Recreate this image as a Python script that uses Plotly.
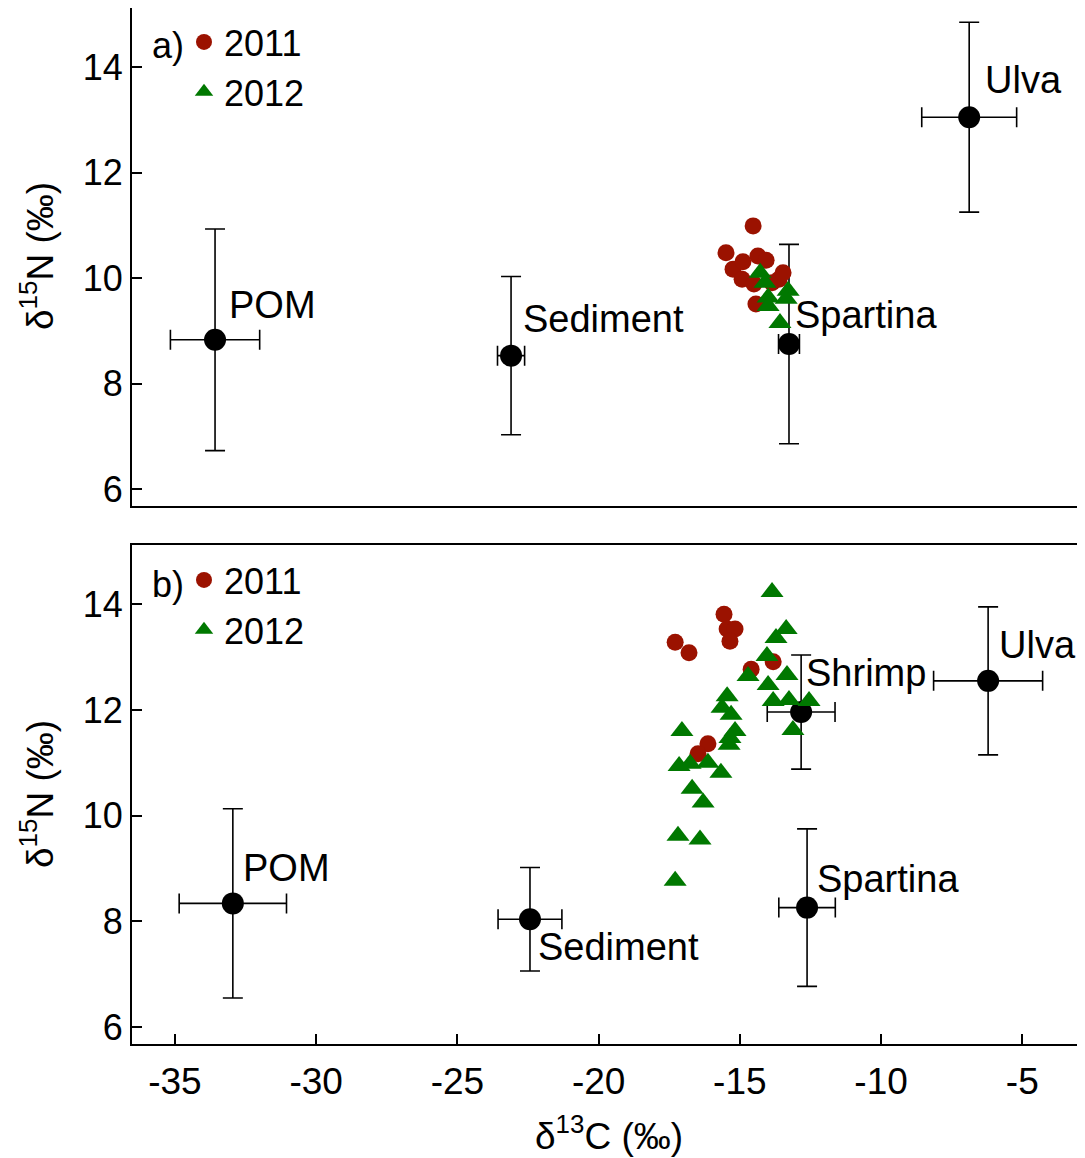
import plotly.graph_objects as go

# ---------------- data ----------------
# Panel a) sources (mean +/- SD)
top_src_names = ["POM", "Sediment", "Spartina", "Ulva"]
top_src_c = [-33.58, -23.10, -13.26, -6.88]
top_src_n = [8.83, 8.53, 8.75, 13.05]
top_src_c_sd = [1.58, 0.48, 0.37, 1.68]
top_src_n_sd = [2.10, 1.50, 1.89, 1.80]

# Panel a) consumers
top_2011_c = [-14.53, -15.49, -15.24, -14.89, -14.92, -14.36, -14.07, -14.50, -14.43, -13.86, -13.61, -13.47]
top_2011_n = [10.99, 10.48, 10.17, 10.31, 9.98, 10.42, 10.34, 9.89, 9.51, 9.91, 9.98, 10.10]
top_2012_c = [-14.28, -14.11, -14.00, -13.29, -13.36, -14.00, -13.58]
top_2012_n = [10.10, 9.91, 9.63, 9.76, 9.61, 9.47, 9.15]

# Panel b) sources
bot_src_names = ["POM", "Sediment", "Spartina", "Shrimp", "Ulva"]
bot_src_c = [-32.95, -22.43, -12.62, -12.83, -6.21]
bot_src_n = [8.34, 8.04, 8.26, 11.96, 12.55]
bot_src_c_sd = [1.90, 1.13, 1.00, 1.20, 1.93]
bot_src_n_sd = [1.79, 0.98, 1.49, 1.08, 1.40]

# Panel b) consumers
bot_2011_c = [-15.56, -15.45, -15.17, -15.35, -17.29, -16.80, -14.60, -13.82, -16.13, -16.48]
bot_2011_n = [13.81, 13.53, 13.53, 13.30, 13.28, 13.08, 12.77, 12.91, 11.36, 11.17]
bot_2012_c = [-13.86, -13.36, -13.72, -14.04, -14.71, -13.33, -14.00, -13.82, -13.26, -12.55,
              -13.12, -15.45, -15.63, -15.31, -15.17, -15.35, -15.38, -17.05, -17.15, -16.76,
              -16.13, -15.67, -16.69, -16.30, -17.19, -16.41, -17.29]
bot_2012_n = [14.23, 13.53, 13.36, 13.02, 12.64, 12.66, 12.47, 12.17, 12.19, 12.17,
              11.62, 12.26, 12.04, 11.91, 11.60, 11.47, 11.34, 11.60, 10.94, 10.98,
              11.00, 10.81, 10.51, 10.25, 9.62, 9.55, 8.77]

x_ticks = [-35, -30, -25, -20, -15, -10, -5]
x_tick_text = ["-35", "-30", "-25", "-20", "-15", "-10", "-5"]
y_ticks = [6, 8, 10, 12, 14]
year_labels = ["2011", "2012"]
panel_labels = ["a)", "b)"]
y_title = "δ<sup>15</sup>N (‰)"
x_title = "δ<sup>13</sup>C (‰)"

# label offsets (pixels) for source names
top_lab_dx = [12, 10, 4, 14]
top_lab_dy = [35, 37, 29, 37]
bot_lab_dx = [8, 6, 8, 3, 9]
bot_lab_dy = [35, -28, 29, 39, 36]

# ---------------- style ----------------
FONT = "Arial, 'Liberation Sans', sans-serif"
RED = "#9b1200"
GREEN = "#007800"
X_RANGE = [-36.52, -2.78]
Y_RANGE = [5.68, 15.12]

# page body has an 8px margin: work in screen pixels and convert
OFF = 8
W = 1085.0 - OFF
H = 1158.0 - OFF


def px_x(sx):
    return min(1.0, max(0.0, (sx - OFF) / W))


def px_y(sy):
    return min(1.0, max(0.0, 1 - (sy - OFF) / H))


fig = go.Figure()


def add_panel(xa, ya, sc, sn, scsd, snsd, c11, n11, c12, n12, legend):
    fig.add_trace(go.Scatter(
        x=sc, y=sn, mode="markers", xaxis=xa, yaxis=ya, showlegend=False,
        marker=dict(color="black", size=22, line=dict(width=0)),
        error_x=dict(type="data", array=scsd, color="black", thickness=1.6, width=10),
        error_y=dict(type="data", array=snsd, color="black", thickness=1.6, width=10),
    ))
    fig.add_trace(go.Scatter(
        x=c11, y=n11, mode="markers", xaxis=xa, yaxis=ya, name=year_labels[0],
        legend=legend, showlegend=True,
        marker=dict(color=RED, size=17, symbol="circle", line=dict(width=0)),
    ))
    fig.add_trace(go.Scatter(
        x=c12, y=n12, mode="markers", xaxis=xa, yaxis=ya, name=year_labels[1],
        legend=legend, showlegend=True,
        marker=dict(color=GREEN, size=20, symbol="triangle-up", line=dict(width=0)),
    ))


add_panel("x", "y", top_src_c, top_src_n, top_src_c_sd, top_src_n_sd,
          top_2011_c, top_2011_n, top_2012_c, top_2012_n, "legend")
add_panel("x2", "y2", bot_src_c, bot_src_n, bot_src_c_sd, bot_src_n_sd,
          bot_2011_c, bot_2011_n, bot_2012_c, bot_2012_n, "legend2")

LABEL_SIZE = 38
annotations = []
for name, cx, ny, dx, dy in zip(top_src_names, top_src_c, top_src_n, top_lab_dx, top_lab_dy):
    annotations.append(dict(x=cx, y=ny, xref="x", yref="y", text=name, showarrow=False,
                            xanchor="left", yanchor="middle", xshift=dx, yshift=dy,
                            font=dict(family=FONT, size=LABEL_SIZE, color="black")))
for name, cx, ny, dx, dy in zip(bot_src_names, bot_src_c, bot_src_n, bot_lab_dx, bot_lab_dy):
    annotations.append(dict(x=cx, y=ny, xref="x2", yref="y2", text=name, showarrow=False,
                            xanchor="left", yanchor="middle", xshift=dx, yshift=dy,
                            font=dict(family=FONT, size=LABEL_SIZE, color="black")))

top_dom = [px_y(506), px_y(7)]
bot_dom = [px_y(1044), px_y(545)]
x_dom = [px_x(132), 1.0]

# panel letters and y titles
for lab, ytop, yc in zip(panel_labels, [7, 545], [256, 794]):
    annotations.append(dict(x=px_x(150), y=px_y(ytop + 39), xref="paper", yref="paper", text=lab,
                            showarrow=False, xanchor="left", yanchor="middle",
                            font=dict(family=FONT, size=36, color="black")))
    annotations.append(dict(x=px_x(37), y=px_y(yc), xref="paper", yref="paper",
                            text=y_title, showarrow=False, textangle=-90,
                            xanchor="center", yanchor="middle",
                            font=dict(family=FONT, size=37, color="black")))
# x title
annotations.append(dict(x=(x_dom[0] + x_dom[1]) / 2, y=px_y(1133), xref="paper", yref="paper",
                        text=x_title, showarrow=False, xanchor="center", yanchor="middle",
                        font=dict(family=FONT, size=37, color="black")))

axis_common = dict(showgrid=False, zeroline=False, showline=True, linecolor="black",
                   linewidth=2, mirror=True, ticks="inside", ticklen=10, tickwidth=1.5,
                   tickcolor="black", automargin=False)

leg_common = dict(xanchor="left", yanchor="top", bgcolor="rgba(0,0,0,0)", borderwidth=0,
                  tracegroupgap=0, itemsizing="trace",
                  font=dict(family=FONT, size=36, color="black"))

fig.update_layout(
    width=int(W), height=int(H),
    margin=dict(l=0, r=0, t=0, b=0),
    paper_bgcolor="white", plot_bgcolor="white",
    font=dict(family=FONT, color="black"),
    xaxis=dict(axis_common, domain=x_dom, range=X_RANGE, anchor="y",
               showticklabels=False, ticks=""),
    yaxis=dict(axis_common, domain=top_dom, range=Y_RANGE, anchor="x",
               tickvals=y_ticks, ticklabelstandoff=0,
               tickfont=dict(family=FONT, size=36, color="black")),
    xaxis2=dict(axis_common, domain=x_dom, range=X_RANGE, anchor="y2",
                tickvals=x_ticks, ticktext=x_tick_text, ticklabelstandoff=4,
                tickfont=dict(family=FONT, size=37, color="black")),
    yaxis2=dict(axis_common, domain=bot_dom, range=Y_RANGE, anchor="x2",
                tickvals=y_ticks, ticklabelstandoff=0,
                tickfont=dict(family=FONT, size=36, color="black")),
    legend=dict(leg_common, x=px_x(184), y=px_y(12)),
    legend2=dict(leg_common, x=px_x(184), y=px_y(550)),
    annotations=annotations,
)

fig.write_html("out.html")
